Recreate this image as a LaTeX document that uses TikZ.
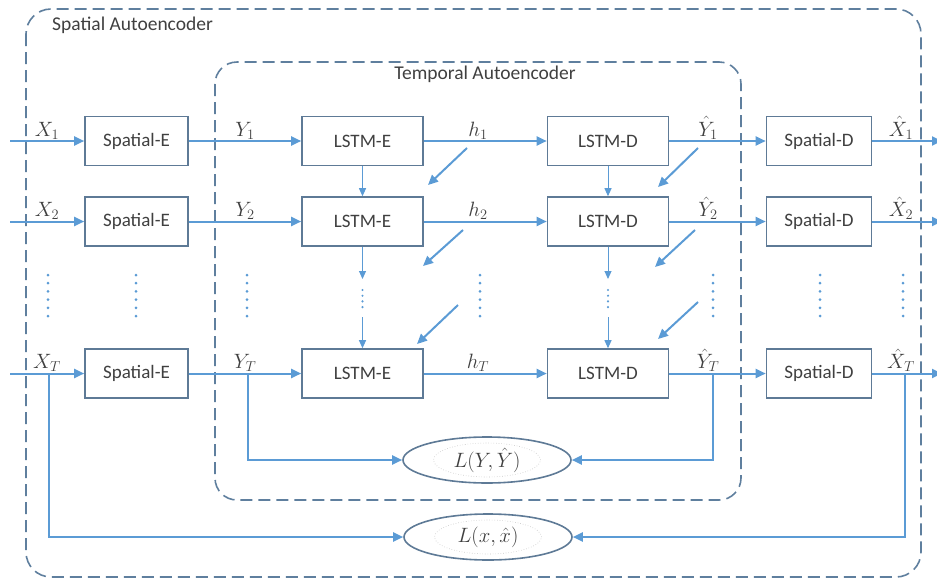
\documentclass[tikz,border=0pt]{standalone}
\usepackage{fontspec}
\setmainfont{Carlito}
\usetikzlibrary{arrows.meta,shapes.geometric}
\definecolor{flow}{HTML}{5B9BD5}
\definecolor{frame}{HTML}{5E7A96}
\definecolor{dashc}{HTML}{5F7F9E}
\definecolor{ink}{HTML}{404040}
\begin{document}
\begin{tikzpicture}[x=1pt,y=-1pt,
  block/.style={draw=frame, line width=1.6pt, fill=white, minimum width=103pt,
    minimum height=49pt, inner sep=0pt, text=ink, font=\fontsize{19}{22}\selectfont},
  lstmbox/.style={block, minimum width=121pt},
  sdbox/.style={block, minimum width=105pt},
  flowarrow/.style={draw=flow, line width=2pt, -{Triangle[length=10pt,width=9pt]}},
  thinarrow/.style={draw=flow, line width=1pt, -{Triangle[length=8pt,width=7pt]}},
  diagarrow/.style={draw=flow, line width=2pt, -{Triangle[length=10pt,width=9pt]}},
  dotcol/.style={draw=flow, line width=3pt, line cap=round, dash pattern=on 0pt off 8.2pt},
  smalldots/.style={draw=flow, line width=2.4pt, line cap=round, dash pattern=on 0pt off 5.7pt},
  frameline/.style={draw=dashc, line width=1.6pt, dash pattern=on 12pt off 6pt},
  lbl/.style={anchor=base, text=ink, font=\fontsize{21}{25}\selectfont, inner sep=0pt},
  title/.style={text=ink, font=\fontsize{19.5}{23}\selectfont, inner sep=0pt},
  loss/.style={ellipse, draw=frame, line width=1.6pt, fill=white, minimum width=168pt,
    minimum height=46pt, inner sep=0pt, text=ink, font=\fontsize{21}{25}\selectfont},
  lossinner/.style={draw=gray!45, line width=0.6pt, dotted}
]
\useasboundingbox (0,0) rectangle (937,579);

% dashed frames of the two autoencoders
\draw[frameline, rounded corners=25pt] (26,9) rectangle (921,577);
\draw[frameline, rounded corners=22pt] (215,62) rectangle (741,500);
\node[title, anchor=base west] (tsp) at (52,30) {Spatial Autoencoder};
\node[title, anchor=base] (ttp) at (485,79) {Temporal Autoencoder};

% blocks, three time steps
\foreach \r/\y in {1/141, 2/221.5, T/373.5}{
  \node[block]   (se\r) at (136.5,\y) {Spatial-E};
  \node[lstmbox] (le\r) at (362.5,\y) {LSTM-E};
  \node[lstmbox] (ld\r) at (608,\y)   {LSTM-D};
  \node[sdbox]   (sd\r) at (819,\y)   {Spatial-D};
  \coordinate (in\r) at (10,\y);
  \coordinate (out\r) at (942,\y);
  \draw[flowarrow] (in\r) -- (se\r);
  \draw[flowarrow] (se\r) -- (le\r);
  \draw[flowarrow] (le\r) -- (ld\r);
  \draw[flowarrow] (ld\r) -- (sd\r);
  \draw[flowarrow] (sd\r) -- (out\r);
}

% signal labels
\foreach \r/\s/\b in {1/1/136, 2/2/216.5, T/T/368.5}{
  \node[lbl] (x\r)  at (47,\b)  {$X_{\s}$};
  \node[lbl] (y\r)  at (245,\b) {$Y_{\s}$};
  \node[lbl] (h\r)  at (478,\b) {$h_{\s}$};
  \node[lbl] (yh\r) at (708,\b) {$\hat{Y}_{\s}$};
  \node[lbl] (xh\r) at (901,\b) {$\hat{X}_{\s}$};
}

% state passing between LSTM cells
\foreach \c/\xx in {e/362.5, d/608}{
  \draw[thinarrow] (l\c1) -- (l\c2);
  \coordinate (\c up) at (\xx,279);
  \coordinate (\c dn) at (\xx,317);
  \draw[thinarrow] (l\c2) -- (\c up);
  \draw[smalldots] (\xx,290) -- (\xx,308);
  \draw[thinarrow] (\c dn) -- (l\c T);
}

% hidden / output feedback arrows
\foreach \n/\ax/\ay/\bx/\by in {a/467/148/428/185, b/463/230/423/266, c/458/305/417/344,
                                d/698/148/658/187, e/695/230/655/267, f/698/302/658/339}{
  \coordinate (fs\n) at (\ax,\ay);
  \coordinate (fe\n) at (\bx,\by);
  \draw[diagarrow] (fs\n) -- (fe\n);
}

% vertical ellipsis columns
\foreach \xx in {48,136,247,480,713,820,903}{
  \draw[dotcol] (\xx,275) -- (\xx,318);
}

% loss terms
\node[loss] (lossY) at (487,460) {};
\draw[lossinner] (lossY.center) ellipse [x radius=53.5pt, y radius=17pt];
\node[text=ink, font=\fontsize{21}{25}\selectfont, inner sep=0pt] (lossYt) at (lossY.center) {$L(Y,\hat{Y})$};
\node[loss] (lossX) at (488,537) {};
\draw[lossinner] (lossX.center) ellipse [x radius=53.5pt, y radius=17pt];
\node[text=ink, font=\fontsize{21}{25}\selectfont, inner sep=0pt] (lossXt) at (lossX.center) {$L(x,\hat{x})$};

\coordinate (ybr)  at (248,373.5);
\coordinate (yhbr) at (713,373.5);
\coordinate (xbr)  at (49,373.5);
\coordinate (xhbr) at (905,373.5);
\draw[flowarrow] (ybr)  |- (lossY.west);
\draw[flowarrow] (yhbr) |- (lossY.east);
\draw[flowarrow] (xbr)  |- (lossX.west);
\draw[flowarrow] (xhbr) |- (lossX.east);
\end{tikzpicture}
\end{document}
